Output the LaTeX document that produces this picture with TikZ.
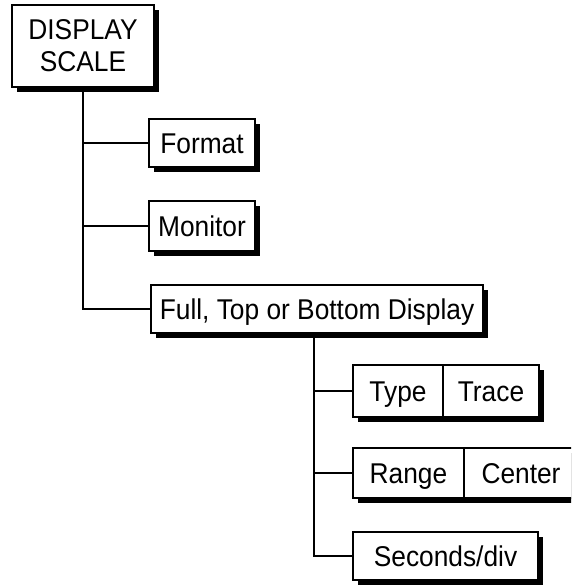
\documentclass[tikz,border=0pt]{standalone}
\usepackage{fontspec}
\setmainfont{Liberation Sans}[Scale=1.1, FakeStretch=0.92]
\usetikzlibrary{shadows}
\begin{document}
\begin{tikzpicture}[x=1pt,y=-1pt,
  basebox/.style={draw, line width=2pt, fill=white, inner sep=0pt, outer sep=0pt,
    font=\fontsize{26}{32}\selectfont,
    drop shadow={shadow xshift=5pt, shadow yshift=-5pt, opacity=1, fill=black}},
  box/.style={basebox, text height=20.4pt, text depth=0pt},
  link/.style={line width=2pt}]
\path[use as bounding box] (0,0) rectangle (571,588);
\clip (0,0) rectangle (571,588);
% top box
\node[basebox, minimum width=142pt, minimum height=82pt, align=center] (ds) at (83,46) {DISPLAY\\SCALE};
\node[box, minimum width=106pt, minimum height=48pt] (fmt) at (202,143) {Format};
\node[box, minimum width=106pt, minimum height=50pt] (mon) at (202,226) {Monitor};
\node[box, minimum width=332pt, minimum height=48pt] (full) at (317,309) {Full, Top or Bottom Display};
% trunk 1
\draw[link] (ds.south) -- (ds.south |- full.west) -- (full.west);
\draw[link] (ds.south |- fmt.west) -- (fmt.west);
\draw[link] (ds.south |- mon.west) -- (mon.west);
% sub boxes
\node[box, minimum width=90pt, minimum height=52pt, anchor=west] (type) at (353,391) {Type};
\node[box, minimum width=96pt, minimum height=52pt, anchor=west] (trace) at (type.east) {Trace};
\node[box, minimum width=111pt, minimum height=50pt, anchor=west] (range) at (353,473) {Range};
\node[box, minimum width=114pt, minimum height=50pt, anchor=west] (center) at (range.east) {Center};
\node[box, minimum width=185pt, minimum height=48pt, anchor=west] (secs) at (353,556) {Seconds/div};
% trunk 2
\coordinate (t2) at ([xshift=-3pt]full.south);
\draw[link] (t2) -- (t2 |- secs.west) -- (secs.west);
\draw[link] (t2 |- type.west) -- (type.west);
\draw[link] (t2 |- range.west) -- (range.west);
\end{tikzpicture}
\end{document}
